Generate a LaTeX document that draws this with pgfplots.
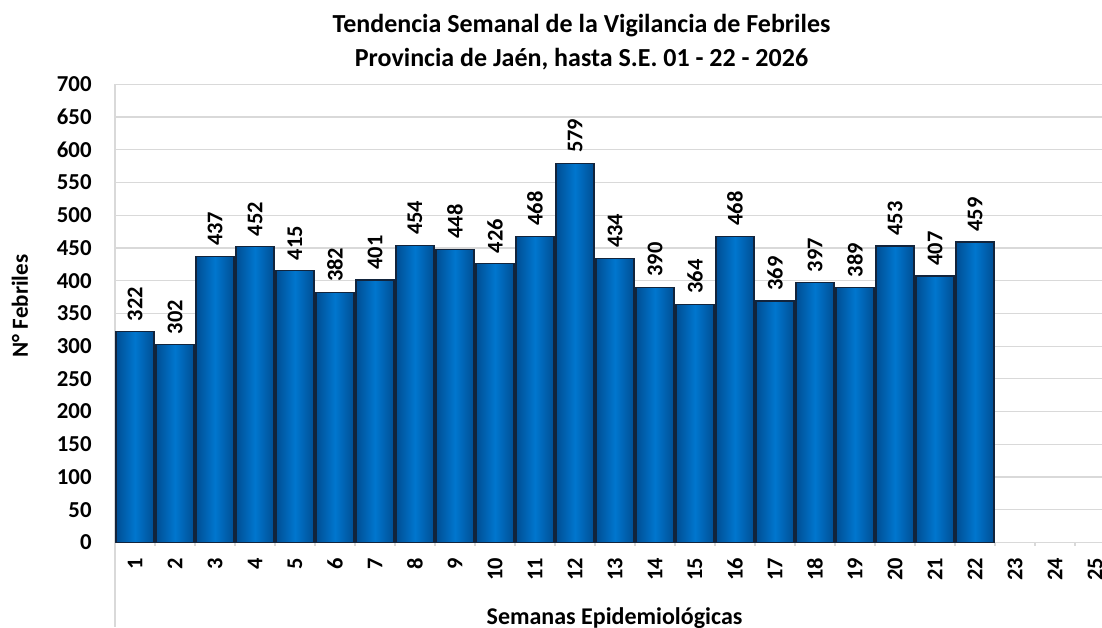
\documentclass[border=0pt]{standalone}
\usepackage{fontspec}
\setmainfont{Carlito}
\usepackage{pgfplots}
\pgfplotsset{compat=1.18}
\definecolor{gridc}{RGB}{217,217,217}
\definecolor{barmid}{RGB}{0,118,206}
\definecolor{baredge}{RGB}{0,78,148}
\definecolor{barline}{RGB}{18,36,60}
\newcommand{\fs}[1]{\fontsize{#1}{#1}\selectfont\bfseries}
\pgfplotsset{febbar/.style={ybar, bar width=0.95, draw=barline, line width=0.6pt,
  left color=baredge, right color=baredge, middle color=barmid}}
\begin{document}
\begin{tikzpicture}
\useasboundingbox (0,0) rectangle (551pt,313.5pt);
\begin{axis}[
  at={(57.5pt,42.25pt)}, anchor=south west,
  scale only axis, width=500pt, height=229.1pt,
  xmin=0.5, xmax=25.5, ymin=0, ymax=700,
  /pgf/number format/assume math mode=true,
  ytick={0,50,...,700},
  xtick={1,...,25},
  minor xtick={0.5,1.5,...,25.5},
  axis x line*=bottom, axis y line*=left,
  axis line style={-, gridc, line width=0.6pt},
  ymajorgrids, grid style={gridc, line width=0.6pt},
  major tick length=0pt,
  minor tick length=1.5pt, tick align=outside,
  minor x tick style={gridc, line width=0.6pt},
  major tick style={draw=none},
  yticklabel style={font=\fs{11.4}, anchor=east, inner sep=0pt},
  yticklabel shift=11.5pt,
  xticklabel style={font=\fs{11.2}, rotate=90, anchor=east, inner sep=0pt},
  xticklabel shift=7.5pt,
  nodes near coords,
  every node near coord/.append style={font=\fs{11.2}, rotate=90, anchor=west, inner ysep=0pt, inner xsep=5pt, text=black},
  clip=false,
]
\addplot[febbar] coordinates {(1,322)};
\addplot[febbar] coordinates {(2,302)};
\addplot[febbar] coordinates {(3,437)};
\addplot[febbar] coordinates {(4,452)};
\addplot[febbar] coordinates {(5,415)};
\addplot[febbar] coordinates {(6,382)};
\addplot[febbar] coordinates {(7,401)};
\addplot[febbar] coordinates {(8,454)};
\addplot[febbar] coordinates {(9,448)};
\addplot[febbar] coordinates {(10,426)};
\addplot[febbar] coordinates {(11,468)};
\addplot[febbar] coordinates {(12,579)};
\addplot[febbar] coordinates {(13,434)};
\addplot[febbar] coordinates {(14,390)};
\addplot[febbar] coordinates {(15,364)};
\addplot[febbar] coordinates {(16,468)};
\addplot[febbar] coordinates {(17,369)};
\addplot[febbar] coordinates {(18,397)};
\addplot[febbar] coordinates {(19,389)};
\addplot[febbar] coordinates {(20,453)};
\addplot[febbar] coordinates {(21,407)};
\addplot[febbar] coordinates {(22,459)};
\end{axis}
\draw[gridc, line width=0.6pt] (57.5pt,42.25pt) -- (57.5pt,0pt);
\node[anchor=base, font=\fs{13}] at (290.75pt,297.3pt) {Tendencia Semanal de la Vigilancia de Febriles};
\node[anchor=base, font=\fs{13}] at (290.75pt,280.2pt) {Provincia de Jaén, hasta S.E. 01 - 22 - 2026};
\node[anchor=base, font=\fs{12}] at (307.25pt,1.5pt) {Semanas Epidemiológicas};
\node[rotate=90, font=\fs{11.5}] at (10pt,160.5pt) {N° Febriles};
\end{tikzpicture}
\end{document}
